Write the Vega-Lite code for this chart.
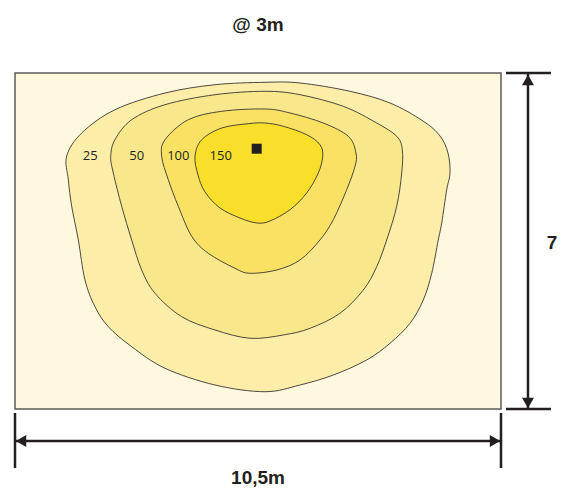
{
  "$schema": "https://vega.github.io/schema/vega-lite/v6.json",
  "autosize": "none",
  "width": 486,
  "height": 336,
  "padding": {"left": 15, "top": 73, "right": 72, "bottom": 89},
  "background": "white",
  "view": {"fill": "#FEF8DE", "stroke": "#5b5b55", "strokeWidth": 1.5},
  "title": {"text": "@ 3m", "fontSize": 19, "fontWeight": "bold", "font": "Liberation Sans", "color": "#231f20", "anchor": "middle", "baseline": "alphabetic", "offset": 22},
  "datasets": {
    "contours": [
      {"level": 25, "i": 1, "x": 1.117, "y": 5.271},
      {"level": 25, "i": 2, "x": 1.441, "y": 5.75},
      {"level": 25, "i": 3, "x": 2.16, "y": 6.235},
      {"level": 25, "i": 4, "x": 3.241, "y": 6.583},
      {"level": 25, "i": 5, "x": 4.321, "y": 6.756},
      {"level": 25, "i": 6, "x": 5.401, "y": 6.806},
      {"level": 25, "i": 7, "x": 6.157, "y": 6.792},
      {"level": 25, "i": 8, "x": 7.238, "y": 6.619},
      {"level": 25, "i": 9, "x": 8.102, "y": 6.375},
      {"level": 25, "i": 10, "x": 8.815, "y": 6.0},
      {"level": 25, "i": 11, "x": 9.182, "y": 5.688},
      {"level": 25, "i": 12, "x": 9.355, "y": 5.333},
      {"level": 25, "i": 13, "x": 9.398, "y": 4.917},
      {"level": 25, "i": 14, "x": 9.327, "y": 4.569},
      {"level": 25, "i": 15, "x": 9.219, "y": 3.875},
      {"level": 25, "i": 16, "x": 9.145, "y": 3.521},
      {"level": 25, "i": 17, "x": 9.003, "y": 2.827},
      {"level": 25, "i": 18, "x": 8.821, "y": 2.271},
      {"level": 25, "i": 19, "x": 8.534, "y": 1.785},
      {"level": 25, "i": 20, "x": 8.102, "y": 1.369},
      {"level": 25, "i": 21, "x": 7.598, "y": 1.021},
      {"level": 25, "i": 22, "x": 6.877, "y": 0.708},
      {"level": 25, "i": 23, "x": 6.157, "y": 0.5},
      {"level": 25, "i": 24, "x": 5.401, "y": 0.36},
      {"level": 25, "i": 25, "x": 4.321, "y": 0.5},
      {"level": 25, "i": 26, "x": 3.241, "y": 0.848},
      {"level": 25, "i": 27, "x": 2.521, "y": 1.298},
      {"level": 25, "i": 28, "x": 2.016, "y": 1.715},
      {"level": 25, "i": 29, "x": 1.728, "y": 2.131},
      {"level": 25, "i": 30, "x": 1.512, "y": 2.688},
      {"level": 25, "i": 31, "x": 1.368, "y": 3.521},
      {"level": 25, "i": 32, "x": 1.225, "y": 4.223},
      {"level": 25, "i": 33, "x": 1.152, "y": 4.777},

      {"level": 50, "i": 1, "x": 2.068, "y": 5.265},
      {"level": 50, "i": 2, "x": 2.16, "y": 5.61},
      {"level": 50, "i": 3, "x": 2.521, "y": 6.027},
      {"level": 50, "i": 4, "x": 3.241, "y": 6.34},
      {"level": 50, "i": 5, "x": 4.321, "y": 6.548},
      {"level": 50, "i": 6, "x": 5.401, "y": 6.619},
      {"level": 50, "i": 7, "x": 6.157, "y": 6.548},
      {"level": 50, "i": 8, "x": 7.093, "y": 6.306},
      {"level": 50, "i": 9, "x": 7.815, "y": 5.958},
      {"level": 50, "i": 10, "x": 8.247, "y": 5.681},
      {"level": 50, "i": 11, "x": 8.368, "y": 5.402},
      {"level": 50, "i": 12, "x": 8.355, "y": 4.917},
      {"level": 50, "i": 13, "x": 8.247, "y": 4.223},
      {"level": 50, "i": 14, "x": 8.03, "y": 3.521},
      {"level": 50, "i": 15, "x": 7.815, "y": 2.965},
      {"level": 50, "i": 16, "x": 7.525, "y": 2.479},
      {"level": 50, "i": 17, "x": 7.022, "y": 1.994},
      {"level": 50, "i": 18, "x": 6.373, "y": 1.681},
      {"level": 50, "i": 19, "x": 5.797, "y": 1.542},
      {"level": 50, "i": 20, "x": 5.077, "y": 1.473},
      {"level": 50, "i": 21, "x": 4.321, "y": 1.646},
      {"level": 50, "i": 22, "x": 3.601, "y": 1.923},
      {"level": 50, "i": 23, "x": 3.025, "y": 2.41},
      {"level": 50, "i": 24, "x": 2.737, "y": 2.896},
      {"level": 50, "i": 25, "x": 2.521, "y": 3.521},
      {"level": 50, "i": 26, "x": 2.305, "y": 4.223},
      {"level": 50, "i": 27, "x": 2.124, "y": 4.917},

      {"level": 100, "i": 1, "x": 3.169, "y": 5.265},
      {"level": 100, "i": 2, "x": 3.241, "y": 5.61},
      {"level": 100, "i": 3, "x": 3.744, "y": 6.027},
      {"level": 100, "i": 4, "x": 4.466, "y": 6.202},
      {"level": 100, "i": 5, "x": 5.401, "y": 6.25},
      {"level": 100, "i": 6, "x": 5.941, "y": 6.167},
      {"level": 100, "i": 7, "x": 6.661, "y": 5.958},
      {"level": 100, "i": 8, "x": 7.201, "y": 5.681},
      {"level": 100, "i": 9, "x": 7.367, "y": 5.333},
      {"level": 100, "i": 10, "x": 7.346, "y": 5.056},
      {"level": 100, "i": 11, "x": 7.166, "y": 4.569},
      {"level": 100, "i": 12, "x": 6.877, "y": 3.944},
      {"level": 100, "i": 13, "x": 6.589, "y": 3.521},
      {"level": 100, "i": 14, "x": 6.157, "y": 3.104},
      {"level": 100, "i": 15, "x": 5.654, "y": 2.896},
      {"level": 100, "i": 16, "x": 5.077, "y": 2.827},
      {"level": 100, "i": 17, "x": 4.753, "y": 2.931},
      {"level": 100, "i": 18, "x": 4.176, "y": 3.244},
      {"level": 100, "i": 19, "x": 3.818, "y": 3.598},
      {"level": 100, "i": 20, "x": 3.528, "y": 4.223},
      {"level": 100, "i": 21, "x": 3.312, "y": 4.777},

      {"level": 150, "i": 1, "x": 3.889, "y": 5.265},
      {"level": 150, "i": 2, "x": 4.034, "y": 5.61},
      {"level": 150, "i": 3, "x": 4.466, "y": 5.854},
      {"level": 150, "i": 4, "x": 5.04, "y": 5.944},
      {"level": 150, "i": 5, "x": 5.401, "y": 5.958},
      {"level": 150, "i": 6, "x": 5.797, "y": 5.89},
      {"level": 150, "i": 7, "x": 6.302, "y": 5.715},
      {"level": 150, "i": 8, "x": 6.589, "y": 5.506},
      {"level": 150, "i": 9, "x": 6.648, "y": 5.265},
      {"level": 150, "i": 10, "x": 6.553, "y": 4.917},
      {"level": 150, "i": 11, "x": 6.302, "y": 4.5},
      {"level": 150, "i": 12, "x": 5.941, "y": 4.152},
      {"level": 150, "i": 13, "x": 5.509, "y": 3.917},
      {"level": 150, "i": 14, "x": 5.228, "y": 3.875},
      {"level": 150, "i": 15, "x": 4.861, "y": 3.979},
      {"level": 150, "i": 16, "x": 4.429, "y": 4.188},
      {"level": 150, "i": 17, "x": 4.105, "y": 4.521},
      {"level": 150, "i": 18, "x": 3.954, "y": 4.875}
    ],
    "labels": [
      {"text": "25", "x": 1.627, "y": 5.265},
      {"text": "50", "x": 2.629, "y": 5.265},
      {"text": "100", "x": 3.528, "y": 5.265},
      {"text": "150", "x": 4.444, "y": 5.265}
    ],
    "lamp": [{"x": 5.222, "y": 5.423}],
    "dims": [
      {"x": 11.083, "y": 0, "x2": 11.083, "y2": 7},
      {"x": 10.608, "y": 7, "x2": 11.58, "y2": 7},
      {"x": 10.608, "y": 0, "x2": 11.58, "y2": 0},
      {"x": 0, "y": -0.083, "x2": 0, "y2": -1.229},
      {"x": 10.5, "y": -0.083, "x2": 10.5, "y2": -1.229},
      {"x": 0, "y": -0.667, "x2": 10.5, "y2": -0.667}
    ],
    "arrows": [
      {"dir": "up", "x": 11.083, "y": 6.854},
      {"dir": "down", "x": 11.083, "y": 0.125},
      {"dir": "left", "x": 0.13, "y": -0.667},
      {"dir": "right", "x": 10.37, "y": -0.667}
    ],
    "dimtext": [
      {"text": "7", "x": 11.6, "y": 3.458},
      {"text": "10,5m", "x": 5.25, "y": -1.4375}
    ]
  },
  "layer": [
    {
      "data": {"name": "contours"},
      "mark": {"type": "line", "interpolate": "cardinal-closed", "stroke": "#3a3630", "strokeWidth": 0.9, "clip": true},
      "encoding": {
        "x": {"field": "x", "type": "quantitative", "scale": {"domain": [0, 10.5], "nice": false, "zero": false}, "axis": null},
        "y": {"field": "y", "type": "quantitative", "scale": {"domain": [0, 7], "nice": false, "zero": false}, "axis": null},
        "detail": {"field": "level", "type": "ordinal"},
        "order": {"field": "i", "type": "quantitative"},
        "fill": {"field": "level", "type": "ordinal", "scale": {"domain": [25, 50, 100, 150], "range": ["#FCEDA9", "#F9E78B", "#F9E263", "#F9DF2A"]}, "legend": null}
      }
    },
    {
      "data": {"name": "labels"},
      "mark": {"type": "text", "font": "Open Sans", "fontSize": 13, "color": "#231f20", "align": "center", "baseline": "middle"},
      "encoding": {
        "x": {"field": "x", "type": "quantitative"},
        "y": {"field": "y", "type": "quantitative"},
        "text": {"field": "text"}
      }
    },
    {
      "data": {"name": "lamp"},
      "mark": {"type": "point", "shape": "square", "size": 100, "filled": true, "color": "#231f20", "opacity": 1},
      "encoding": {
        "x": {"field": "x", "type": "quantitative"},
        "y": {"field": "y", "type": "quantitative"}
      }
    },
    {
      "data": {"name": "dims"},
      "mark": {"type": "rule", "color": "#231f20", "strokeWidth": 2.5},
      "encoding": {
        "x": {"field": "x", "type": "quantitative"},
        "y": {"field": "y", "type": "quantitative"},
        "x2": {"field": "x2"},
        "y2": {"field": "y2"}
      }
    },
    {
      "data": {"name": "arrows"},
      "mark": {"type": "point", "size": 144, "filled": true, "color": "#231f20", "opacity": 1},
      "encoding": {
        "x": {"field": "x", "type": "quantitative"},
        "y": {"field": "y", "type": "quantitative"},
        "shape": {"field": "dir", "type": "nominal", "scale": {"domain": ["up", "down", "left", "right"], "range": ["triangle-up", "triangle-down", "triangle-left", "triangle-right"]}, "legend": null}
      }
    },
    {
      "data": {"name": "dimtext"},
      "mark": {"type": "text", "font": "Liberation Sans", "fontSize": 19, "fontWeight": "bold", "color": "#231f20", "align": "center", "baseline": "middle"},
      "encoding": {
        "x": {"field": "x", "type": "quantitative"},
        "y": {"field": "y", "type": "quantitative"},
        "text": {"field": "text"}
      }
    }
  ]
}
